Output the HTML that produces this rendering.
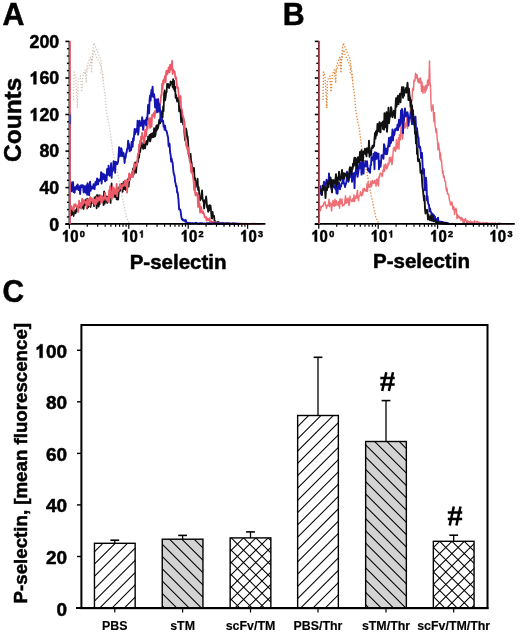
<!DOCTYPE html><html><head><meta charset="utf-8"><style>html,body{margin:0;padding:0;background:#fff;}svg{display:block;}</style></head><body>
<svg style="will-change:transform" width="520" height="633" viewBox="0 0 520 633" font-family='"Liberation Sans", sans-serif'>
<style>text{stroke:#000;stroke-width:0.5;paint-order:stroke}</style>
<rect width="520" height="633" fill="#fff"/>
<text transform="translate(2.6,25.3) scale(0.955,1)" font-size="31.8" font-weight="bold">A</text>
<text transform="translate(282.8,25.1) scale(0.955,1)" font-size="31.8" font-weight="bold">B</text>
<text transform="translate(2.4,301.8) scale(0.94,1)" font-size="31.8" font-weight="bold">C</text>
<text transform="translate(20.7,119.8) rotate(-90)" text-anchor="middle" font-size="24.5" font-weight="bold">Counts</text>
<text x="178.1" y="268.8" text-anchor="middle" font-size="20.5" font-weight="bold">P-selectin</text>
<text x="421.5" y="268.3" text-anchor="middle" font-size="20.5" font-weight="bold">P-selectin</text>
<polyline points="73.6,100.0 74.1,72.0 75.6,76.0 77.4,108.0 78.1,80.0 80.6,76.0 81.6,92.0 83.1,74.0 85.0,70.0 86.3,83.0 87.1,66.0 88.8,61.3 90.6,57.0 91.6,73.0 92.6,52.0 93.9,43.0 95.6,47.0 97.7,52.4 99.1,56.0 100.8,59.4 101.5,66.3 100.8,72.7 102.7,74.0 103.6,85.0 105.1,95.0 106.5,112.0 110.1,130.0 112.6,150.0 117.2,171.0 121.8,195.5 126.4,217.0 129.5,224.0" fill="none" stroke="#b8a090" stroke-width="1.3" stroke-linejoin="round" stroke-dasharray="1.3 1.7" opacity="0.6"/>
<polyline points="85.0,74.0 87.1,70.0 89.1,66.0 91.1,62.0 92.6,58.0 94.2,50.0 96.1,56.0 98.1,60.0 100.1,64.0 102.1,70.0 103.1,80.0" fill="none" stroke="#b8a090" stroke-width="1.3" stroke-linejoin="round" stroke-dasharray="1.3 1.7" opacity="0.6"/>
<polyline points="70.6,212.6 71.1,215.3 71.6,209.6 72.1,214.3 72.6,210.9 73.1,210.6 73.6,216.0 74.1,211.3 74.6,210.6 75.1,212.4 75.6,213.2 76.1,209.9 76.6,211.4 77.1,207.0 77.6,208.4 78.1,208.0 78.6,205.3 79.1,204.6 79.6,204.0 80.1,207.6 80.6,207.6 81.1,207.0 81.6,207.8 82.1,203.7 82.6,207.0 83.1,207.7 83.6,208.9 84.1,204.1 84.6,205.2 85.1,200.3 85.6,204.5 86.1,199.3 86.6,201.4 87.1,208.5 87.6,198.6 88.1,207.2 88.6,205.6 89.1,203.5 89.6,205.5 90.1,205.5 90.6,207.0 91.1,203.1 91.6,201.9 92.1,201.7 92.6,200.5 93.1,203.2 93.6,200.8 94.1,206.3 94.6,197.3 95.1,199.5 95.6,199.9 96.1,196.3 96.6,208.3 97.1,195.0 97.6,201.2 98.1,200.2 98.6,206.7 99.1,195.2 99.6,204.5 100.1,198.6 100.6,200.2 101.1,198.3 101.6,202.2 102.1,196.4 102.6,199.5 103.1,200.7 103.6,205.2 104.1,191.4 104.6,203.7 105.1,201.7 105.6,196.8 106.1,199.1 106.6,196.4 107.1,203.0 107.6,198.1 108.1,196.5 108.6,196.2 109.1,196.1 109.6,195.9 110.1,193.4 110.6,202.9 111.1,189.4 111.6,183.5 112.1,194.9 112.6,194.6 113.1,196.1 113.6,194.0 114.1,193.9 114.6,195.3 115.1,197.2 115.6,192.0 116.1,191.8 116.6,199.4 117.1,194.1 117.6,188.4 118.1,199.6 118.6,193.8 119.1,188.6 119.6,186.1 120.1,190.9 120.6,186.5 121.1,185.2 121.6,184.0 122.1,186.4 122.6,191.8 123.1,185.9 123.6,181.8 124.1,189.0 124.6,186.4 125.1,188.8 125.6,189.7 126.1,184.4 126.6,184.0 127.1,184.0 127.6,179.4 128.1,185.0 128.6,186.7 129.1,181.6 129.6,179.2 130.1,178.3 130.6,175.6 131.1,174.6 131.6,175.2 132.1,172.8 132.6,173.4 133.1,168.4 133.6,174.5 134.1,172.5 134.6,167.3 135.1,162.3 135.6,169.7 136.1,172.8 136.6,165.4 137.1,163.5 137.6,160.4 138.1,162.0 138.6,153.5 139.1,157.6 139.6,150.1 140.1,152.2 140.6,148.6 141.1,147.3 141.6,142.4 142.1,144.8 142.6,146.0 143.1,148.9 143.6,147.0 144.1,143.2 144.6,146.8 145.1,148.4 145.6,143.5 146.1,141.7 146.6,141.0 147.1,144.6 147.6,142.8 148.1,136.7 148.6,140.6 149.1,136.7 149.6,134.9 150.1,141.4 150.6,139.6 151.1,133.7 151.6,136.3 152.1,137.5 152.6,133.1 153.1,134.7 153.6,137.2 154.1,128.1 154.6,135.4 155.1,136.4 155.6,134.2 156.1,126.2 156.6,130.8 157.1,125.2 157.6,129.0 158.1,127.7 158.6,125.0 159.1,120.2 159.6,119.5 160.1,123.4 160.6,115.8 161.1,119.2 161.6,116.5 162.1,110.8 162.6,117.7 163.1,106.5 163.6,111.2 164.1,93.4 164.6,90.3 165.1,100.4 165.6,97.6 166.1,92.7 166.6,92.1 167.1,83.9 167.6,87.0 168.1,84.0 168.6,85.4 169.1,88.1 169.6,84.8 170.1,85.6 170.6,81.4 171.1,82.1 171.6,83.7 172.1,82.0 172.6,87.2 173.1,79.2 173.6,88.8 174.1,80.9 174.6,90.8 175.1,86.6 175.6,97.8 176.1,94.8 176.6,98.2 177.1,101.6 177.6,98.6 178.1,99.2 178.6,97.6 179.1,111.3 179.6,106.5 180.1,108.8 180.6,112.9 181.1,122.2 181.6,110.7 182.1,119.6 182.6,119.1 183.1,124.6 183.6,119.4 184.1,127.7 184.6,135.4 185.1,140.3 185.6,138.7 186.1,128.3 186.6,131.2 187.1,135.7 187.6,136.3 188.1,141.2 188.6,154.2 189.1,156.6 189.6,155.8 190.1,161.3 190.6,153.9 191.1,160.7 191.6,162.8 192.1,166.6 192.6,171.5 193.1,169.0 193.6,168.0 194.1,168.2 194.6,180.2 195.1,178.1 195.6,187.5 196.1,185.3 196.6,181.1 197.1,184.5 197.6,178.7 198.1,190.0 198.6,186.9 199.1,192.1 199.6,198.9 200.1,200.3 200.6,199.4 201.1,198.2 201.6,193.3 202.1,190.4 202.6,198.7 203.1,201.1 203.6,200.5 204.1,208.5 204.6,204.8 205.1,199.8 205.6,202.6 206.1,196.4 206.6,201.0 207.1,207.7 207.6,205.4 208.1,211.8 208.6,206.6 209.1,210.7 209.6,205.2 210.1,207.1 210.6,205.6 211.1,211.7 211.6,217.8 212.1,218.6 212.6,211.8 213.1,216.5 213.6,215.8 214.1,215.8 214.6,222.4 215.1,221.0 215.6,222.1 216.1,223.2 216.6,223.5 217.1,223.5 217.6,222.1 218.1,221.9 218.6,223.3 219.1,222.6 219.6,223.3 220.1,223.1 220.6,223.8 221.1,223.8 221.6,223.7 222.1,223.6 222.6,223.6 223.1,223.5 223.6,223.7 224.1,223.7 224.6,223.7 225.1,223.5 225.6,223.9 226.1,223.7 226.6,223.9 227.1,223.9 227.6,223.5 228.1,223.3 228.6,223.9 229.1,223.6 229.6,223.8 230.1,223.7 230.6,223.8 231.1,223.6 231.6,223.8 232.1,223.7 232.6,223.8 233.1,223.4 233.6,223.9 234.1,223.9 234.6,223.6 235.1,223.8 235.6,223.9 236.1,223.9 236.6,223.9 237.1,223.9 237.6,223.9 238.1,223.8 238.6,223.9 239.1,223.9 239.6,223.9" fill="none" stroke="#111" stroke-width="1.8" stroke-linejoin="round" />
<polyline points="70.6,207.9 71.1,209.0 71.6,206.2 72.1,208.4 72.6,209.8 73.1,208.2 73.6,211.3 74.1,204.3 74.6,206.8 75.1,204.5 75.6,204.1 76.1,205.7 76.6,206.7 77.1,207.1 77.6,207.2 78.1,212.1 78.6,208.0 79.1,200.7 79.6,205.8 80.1,203.2 80.6,203.4 81.1,208.6 81.6,203.9 82.1,198.6 82.6,205.1 83.1,203.1 83.6,200.2 84.1,200.7 84.6,201.4 85.1,203.0 85.6,201.6 86.1,202.9 86.6,208.0 87.1,199.8 87.6,199.5 88.1,201.0 88.6,205.0 89.1,199.2 89.6,205.6 90.1,196.9 90.6,197.7 91.1,200.7 91.6,198.1 92.1,198.8 92.6,202.0 93.1,202.8 93.6,200.8 94.1,199.5 94.6,204.5 95.1,201.5 95.6,199.4 96.1,203.9 96.6,197.2 97.1,200.4 97.6,201.8 98.1,199.5 98.6,197.5 99.1,200.3 99.6,197.3 100.1,197.0 100.6,195.4 101.1,202.8 101.6,196.6 102.1,202.0 102.6,199.3 103.1,197.1 103.6,199.9 104.1,198.5 104.6,197.9 105.1,192.7 105.6,197.3 106.1,199.8 106.6,198.2 107.1,199.6 107.6,201.0 108.1,197.2 108.6,202.1 109.1,190.2 109.6,194.2 110.1,186.1 110.6,197.2 111.1,194.5 111.6,199.6 112.1,192.3 112.6,186.3 113.1,197.5 113.6,188.1 114.1,188.1 114.6,191.6 115.1,194.1 115.6,189.7 116.1,191.7 116.6,183.9 117.1,196.3 117.6,189.4 118.1,189.6 118.6,190.9 119.1,188.9 119.6,188.6 120.1,184.1 120.6,186.5 121.1,187.9 121.6,189.6 122.1,184.9 122.6,185.2 123.1,185.5 123.6,185.9 124.1,184.0 124.6,181.9 125.1,180.4 125.6,185.8 126.1,182.3 126.6,180.8 127.1,192.7 127.6,182.7 128.1,181.7 128.6,178.3 129.1,173.3 129.6,180.2 130.1,174.9 130.6,174.6 131.1,177.2 131.6,176.3 132.1,172.6 132.6,170.8 133.1,177.2 133.6,170.6 134.1,163.7 134.6,169.1 135.1,165.8 135.6,164.3 136.1,165.5 136.6,162.8 137.1,166.1 137.6,156.6 138.1,153.6 138.6,153.8 139.1,144.5 139.6,147.1 140.1,140.7 140.6,144.5 141.1,136.6 141.6,140.6 142.1,132.7 142.6,136.3 143.1,137.3 143.6,138.5 144.1,143.2 144.6,142.1 145.1,129.9 145.6,130.5 146.1,136.2 146.6,131.8 147.1,123.8 147.6,128.9 148.1,121.6 148.6,121.1 149.1,118.2 149.6,120.3 150.1,127.9 150.6,120.4 151.1,117.9 151.6,126.5 152.1,115.0 152.6,115.3 153.1,114.1 153.6,115.8 154.1,112.3 154.6,117.9 155.1,110.8 155.6,113.1 156.1,111.0 156.6,106.4 157.1,105.1 157.6,107.7 158.1,98.8 158.6,106.3 159.1,105.7 159.6,105.2 160.1,103.0 160.6,101.1 161.1,95.2 161.6,95.3 162.1,83.7 162.6,89.3 163.1,80.4 163.6,84.0 164.1,79.4 164.6,78.3 165.1,75.8 165.6,82.3 166.1,72.3 166.6,70.7 167.1,74.6 167.6,73.6 168.1,71.9 168.6,67.4 169.1,67.7 169.6,72.4 170.1,64.6 170.6,69.6 171.1,69.2 171.6,66.2 172.1,61.0 172.6,74.0 173.1,69.5 173.6,71.6 174.1,71.4 174.6,71.1 175.1,75.4 175.6,79.0 176.1,77.1 176.6,82.4 177.1,88.0 177.6,87.3 178.1,87.3 178.6,94.2 179.1,96.7 179.6,99.6 180.1,96.6 180.6,95.9 181.1,108.3 181.6,108.7 182.1,110.2 182.6,116.3 183.1,116.0 183.6,118.5 184.1,130.3 184.6,121.7 185.1,134.3 185.6,138.9 186.1,145.6 186.6,144.1 187.1,149.0 187.6,147.2 188.1,153.1 188.6,147.9 189.1,155.9 189.6,160.3 190.1,162.5 190.6,163.6 191.1,172.0 191.6,164.7 192.1,173.4 192.6,174.0 193.1,178.1 193.6,180.7 194.1,190.0 194.6,181.7 195.1,192.8 195.6,195.5 196.1,192.6 196.6,193.5 197.1,193.1 197.6,196.1 198.1,206.9 198.6,195.6 199.1,205.2 199.6,203.5 200.1,212.5 200.6,209.7 201.1,206.9 201.6,210.1 202.1,212.7 202.6,213.2 203.1,211.4 203.6,213.8 204.1,214.1 204.6,217.0 205.1,217.3 205.6,217.9 206.1,217.0 206.6,220.5 207.1,218.6 207.6,218.6 208.1,219.6 208.6,220.0 209.1,220.2 209.6,218.1 210.1,222.9 210.6,222.0 211.1,223.0 211.6,221.2 212.1,222.6 212.6,222.2 213.1,222.2 213.6,223.8 214.1,222.1 214.6,223.1 215.1,222.0 215.6,223.4 216.1,223.2 216.6,223.2 217.1,223.3 217.6,222.9 218.1,223.2 218.6,223.6 219.1,222.8 219.6,223.8 220.1,223.8 220.6,223.3 221.1,223.1 221.6,223.2 222.1,223.2 222.6,223.4 223.1,223.9 223.6,223.3 224.1,223.8 224.6,223.9 225.1,223.3 225.6,223.5 226.1,223.8 226.6,223.4 227.1,223.9 227.6,223.9 228.1,223.6 228.6,223.4 229.1,223.8 229.6,223.7 230.1,223.5 230.6,223.6 231.1,223.7 231.6,223.8 232.1,223.9 232.6,223.6 233.1,223.4 233.6,223.3 234.1,223.9 234.6,223.6 235.1,223.6 235.6,223.9 236.1,223.9 236.6,223.9 237.1,223.7 237.6,223.6 238.1,223.6 238.6,223.9 239.1,223.8 239.6,223.8 240.1,223.9 240.6,223.9 241.1,223.5 241.6,223.8 242.1,223.9 242.6,223.6 243.1,223.9 243.6,223.9 244.1,223.9 244.6,223.7 245.1,223.6 245.6,223.9 246.1,223.8 246.6,223.7 247.1,223.8 247.6,223.9 248.1,223.9 248.6,223.8 249.1,223.9 249.6,223.9 250.1,223.9 250.6,223.8 251.1,223.9 251.6,223.8 252.1,223.7 252.6,223.7 253.1,223.6 253.6,223.9 254.1,223.7 254.6,223.7 255.1,223.8 255.6,223.9 256.1,223.8 256.6,223.9 257.1,223.9 257.6,223.9 258.1,223.8 258.6,223.9 259.1,223.9 259.6,223.9 260.1,223.9 260.6,223.8 261.1,223.9 261.6,223.9" fill="none" stroke="#ec5a68" stroke-width="1.8" stroke-linejoin="round" />
<polyline points="70.6,185.9 71.1,185.9 71.6,191.2 72.1,182.3 72.6,188.6 73.1,182.2 73.6,192.1 74.1,189.4 74.6,192.7 75.1,187.1 75.6,189.7 76.1,187.5 76.6,186.1 77.1,188.7 77.6,184.4 78.1,187.0 78.6,190.0 79.1,187.9 79.6,186.3 80.1,194.0 80.6,187.4 81.1,185.3 81.6,187.4 82.1,185.2 82.6,185.4 83.1,185.4 83.6,192.4 84.1,186.2 84.6,186.6 85.1,188.4 85.6,192.7 86.1,186.2 86.6,185.2 87.1,194.8 87.6,183.2 88.1,186.7 88.6,190.1 89.1,195.1 89.6,185.7 90.1,181.6 90.6,190.9 91.1,186.8 91.6,186.6 92.1,188.6 92.6,187.3 93.1,187.0 93.6,184.2 94.1,188.9 94.6,189.1 95.1,183.9 95.6,181.8 96.1,185.0 96.6,183.6 97.1,178.4 97.6,180.0 98.1,184.5 98.6,180.5 99.1,179.5 99.6,180.9 100.1,179.8 100.6,179.2 101.1,172.1 101.6,183.5 102.1,177.7 102.6,173.5 103.1,179.0 103.6,176.0 104.1,174.3 104.6,177.4 105.1,181.3 105.6,175.2 106.1,178.5 106.6,180.2 107.1,169.0 107.6,170.5 108.1,174.7 108.6,165.8 109.1,170.5 109.6,175.7 110.1,174.5 110.6,172.4 111.1,163.3 111.6,177.7 112.1,170.8 112.6,171.1 113.1,169.7 113.6,161.3 114.1,161.8 114.6,162.0 115.1,172.7 115.6,162.0 116.1,163.2 116.6,162.3 117.1,164.4 117.6,163.3 118.1,161.5 118.6,155.2 119.1,147.2 119.6,156.6 120.1,154.5 120.6,155.4 121.1,148.1 121.6,148.9 122.1,156.4 122.6,152.3 123.1,153.5 123.6,153.1 124.1,157.1 124.6,163.0 125.1,157.5 125.6,157.8 126.1,153.5 126.6,152.5 127.1,148.8 127.6,148.8 128.1,140.7 128.6,144.7 129.1,144.0 129.6,151.3 130.1,150.1 130.6,150.2 131.1,150.1 131.6,141.9 132.1,145.2 132.6,146.9 133.1,138.2 133.6,140.7 134.1,135.2 134.6,129.0 135.1,134.2 135.6,129.7 136.1,132.0 136.6,128.8 137.1,130.5 137.6,120.6 138.1,134.7 138.6,131.0 139.1,123.7 139.6,120.6 140.1,123.1 140.6,125.8 141.1,125.3 141.6,125.5 142.1,117.3 142.6,120.7 143.1,129.9 143.6,126.5 144.1,120.6 144.6,123.5 145.1,121.3 145.6,120.1 146.1,125.4 146.6,117.7 147.1,119.9 147.6,113.8 148.1,105.0 148.6,105.3 149.1,113.3 149.6,99.4 150.1,95.5 150.6,100.6 151.1,93.2 151.6,89.6 152.1,96.2 152.6,86.6 153.1,96.8 153.6,93.7 154.1,94.4 154.6,98.5 155.1,107.5 155.6,104.2 156.1,99.5 156.6,103.6 157.1,112.3 157.6,108.8 158.1,99.3 158.6,111.5 159.1,104.3 159.6,104.2 160.1,110.9 160.6,116.8 161.1,121.2 161.6,121.6 162.1,119.1 162.6,121.6 163.1,120.8 163.6,126.6 164.1,125.4 164.6,129.6 165.1,125.8 165.6,130.3 166.1,130.6 166.6,131.2 167.1,133.1 167.6,135.9 168.1,137.5 168.6,146.2 169.1,146.7 169.6,143.7 170.1,152.7 170.6,154.3 171.1,161.5 171.6,158.4 172.1,161.3 172.6,162.5 173.1,168.5 173.6,172.8 174.1,174.6 174.6,176.1 175.1,181.8 175.6,183.2 176.1,186.6 176.6,186.0 177.1,192.5 177.6,192.1 178.1,195.7 178.6,201.5 179.1,209.4 179.6,209.5 180.1,209.4 180.6,211.0 181.1,215.3 181.6,218.0 182.1,219.4 182.6,218.9 183.1,220.5 183.6,220.1 184.1,220.5 184.6,220.2 185.1,221.4 185.6,219.9 186.1,221.4 186.6,223.0 187.1,222.6 187.6,223.5 188.1,222.8 188.6,223.2 189.1,223.5 189.6,222.9 190.1,223.0 190.6,223.9 191.1,223.1 191.6,223.1 192.1,223.1 192.6,223.4 193.1,223.3 193.6,223.7 194.1,223.7 194.6,223.2 195.1,223.2 195.6,222.9 196.1,222.8 196.6,223.1 197.1,223.7 197.6,223.4 198.1,223.7 198.6,223.7 199.1,223.3 199.6,223.9 200.1,223.2 200.6,223.2 201.1,223.3 201.6,223.8 202.1,223.4 202.6,223.2 203.1,223.6 203.6,223.8 204.1,223.4 204.6,223.4 205.1,223.8 205.6,223.8 206.1,223.8 206.6,223.2 207.1,223.6 207.6,223.6 208.1,222.9 208.6,223.9 209.1,223.5 209.6,223.4 210.1,223.9 210.6,223.6 211.1,223.3 211.6,223.5 212.1,223.7 212.6,223.8 213.1,223.5 213.6,223.3 214.1,223.3 214.6,223.3 215.1,223.2 215.6,223.6 216.1,223.4 216.6,223.6 217.1,223.3 217.6,223.3 218.1,223.5 218.6,223.5 219.1,223.9 219.6,223.3 220.1,223.7 220.6,223.6 221.1,223.3 221.6,223.8 222.1,223.7 222.6,223.1 223.1,223.8 223.6,223.9 224.1,223.4 224.6,223.9 225.1,223.7 225.6,223.4 226.1,223.8 226.6,223.6 227.1,223.3 227.6,223.2 228.1,223.7 228.6,223.5 229.1,223.8 229.6,223.8 230.1,223.6 230.6,223.6 231.1,223.9 231.6,223.9 232.1,223.9 232.6,223.6 233.1,223.5 233.6,223.6 234.1,223.9 234.6,223.8 235.1,223.7 235.6,223.5 236.1,223.8 236.6,223.6 237.1,223.8 237.6,223.9 238.1,223.9 238.6,223.8 239.1,223.7 239.6,223.8" fill="none" stroke="#1414b0" stroke-width="1.9" stroke-linejoin="round" />
<line x1="70" y1="224" x2="70" y2="117" stroke="#3a2aa0" stroke-width="1.5"/>
<line x1="65.4" y1="224.2" x2="69.4" y2="224.2" stroke="#000" stroke-width="1.6"/>
<g transform="translate(59.20,230.50) scale(1.000,1)"><text x="-9.90" y="0" font-size="17.8" font-weight="bold">0</text></g>
<line x1="66.9" y1="216.9" x2="69.4" y2="216.9" stroke="#000" stroke-width="1.4"/>
<line x1="66.9" y1="209.6" x2="69.4" y2="209.6" stroke="#000" stroke-width="1.4"/>
<line x1="66.9" y1="202.3" x2="69.4" y2="202.3" stroke="#000" stroke-width="1.4"/>
<line x1="66.9" y1="195.0" x2="69.4" y2="195.0" stroke="#000" stroke-width="1.4"/>
<line x1="65.4" y1="187.6" x2="69.4" y2="187.6" stroke="#000" stroke-width="1.6"/>
<g transform="translate(59.20,193.94) scale(1.000,1)"><text x="-19.79" y="0" font-size="17.8" font-weight="bold">4</text><text x="-9.90" y="0" font-size="17.8" font-weight="bold">0</text></g>
<line x1="66.9" y1="180.3" x2="69.4" y2="180.3" stroke="#000" stroke-width="1.4"/>
<line x1="66.9" y1="173.0" x2="69.4" y2="173.0" stroke="#000" stroke-width="1.4"/>
<line x1="66.9" y1="165.7" x2="69.4" y2="165.7" stroke="#000" stroke-width="1.4"/>
<line x1="66.9" y1="158.4" x2="69.4" y2="158.4" stroke="#000" stroke-width="1.4"/>
<line x1="65.4" y1="151.1" x2="69.4" y2="151.1" stroke="#000" stroke-width="1.6"/>
<g transform="translate(59.20,157.38) scale(1.000,1)"><text x="-19.79" y="0" font-size="17.8" font-weight="bold">8</text><text x="-9.90" y="0" font-size="17.8" font-weight="bold">0</text></g>
<line x1="66.9" y1="143.8" x2="69.4" y2="143.8" stroke="#000" stroke-width="1.4"/>
<line x1="66.9" y1="136.5" x2="69.4" y2="136.5" stroke="#000" stroke-width="1.4"/>
<line x1="66.9" y1="129.1" x2="69.4" y2="129.1" stroke="#000" stroke-width="1.4"/>
<line x1="66.9" y1="121.8" x2="69.4" y2="121.8" stroke="#000" stroke-width="1.4"/>
<line x1="65.4" y1="114.5" x2="69.4" y2="114.5" stroke="#000" stroke-width="1.6"/>
<g transform="translate(59.20,120.82) scale(1.000,1)"><polygon points="-22.91,0.00 -22.91,-12.74 -24.92,-12.74 -25.49,-11.89 -26.31,-11.04 -27.29,-10.29 -28.36,-9.70 -28.36,-7.44 -27.02,-8.01 -25.61,-9.08 -25.61,0.00" fill="#000" stroke="#000" stroke-width="0.5" stroke-linejoin="round"/><text x="-19.79" y="0" font-size="17.8" font-weight="bold">2</text><text x="-9.90" y="0" font-size="17.8" font-weight="bold">0</text></g>
<line x1="66.9" y1="107.2" x2="69.4" y2="107.2" stroke="#000" stroke-width="1.4"/>
<line x1="66.9" y1="99.9" x2="69.4" y2="99.9" stroke="#000" stroke-width="1.4"/>
<line x1="66.9" y1="92.6" x2="69.4" y2="92.6" stroke="#000" stroke-width="1.4"/>
<line x1="66.9" y1="85.3" x2="69.4" y2="85.3" stroke="#000" stroke-width="1.4"/>
<line x1="65.4" y1="78.0" x2="69.4" y2="78.0" stroke="#000" stroke-width="1.6"/>
<g transform="translate(59.20,84.26) scale(1.000,1)"><polygon points="-22.91,0.00 -22.91,-12.74 -24.92,-12.74 -25.49,-11.89 -26.31,-11.04 -27.29,-10.29 -28.36,-9.70 -28.36,-7.44 -27.02,-8.01 -25.61,-9.08 -25.61,0.00" fill="#000" stroke="#000" stroke-width="0.5" stroke-linejoin="round"/><text x="-19.79" y="0" font-size="17.8" font-weight="bold">6</text><text x="-9.90" y="0" font-size="17.8" font-weight="bold">0</text></g>
<line x1="66.9" y1="70.6" x2="69.4" y2="70.6" stroke="#000" stroke-width="1.4"/>
<line x1="66.9" y1="63.3" x2="69.4" y2="63.3" stroke="#000" stroke-width="1.4"/>
<line x1="66.9" y1="56.0" x2="69.4" y2="56.0" stroke="#000" stroke-width="1.4"/>
<line x1="66.9" y1="48.7" x2="69.4" y2="48.7" stroke="#000" stroke-width="1.4"/>
<line x1="65.4" y1="41.4" x2="69.4" y2="41.4" stroke="#000" stroke-width="1.6"/>
<g transform="translate(59.20,47.70) scale(1.000,1)"><text x="-29.69" y="0" font-size="17.8" font-weight="bold">2</text><text x="-19.79" y="0" font-size="17.8" font-weight="bold">0</text><text x="-9.90" y="0" font-size="17.8" font-weight="bold">0</text></g>
<line x1="69.4" y1="224.2" x2="69.4" y2="228.7" stroke="#000" stroke-width="1.2"/>
<line x1="87.3" y1="224.2" x2="87.3" y2="226.7" stroke="#000" stroke-width="1.2"/>
<line x1="97.7" y1="224.2" x2="97.7" y2="226.7" stroke="#000" stroke-width="1.2"/>
<line x1="105.2" y1="224.2" x2="105.2" y2="226.7" stroke="#000" stroke-width="1.2"/>
<line x1="110.9" y1="224.2" x2="110.9" y2="226.7" stroke="#000" stroke-width="1.2"/>
<line x1="115.6" y1="224.2" x2="115.6" y2="226.7" stroke="#000" stroke-width="1.2"/>
<line x1="119.6" y1="224.2" x2="119.6" y2="226.7" stroke="#000" stroke-width="1.2"/>
<line x1="123.0" y1="224.2" x2="123.0" y2="226.7" stroke="#000" stroke-width="1.2"/>
<line x1="126.1" y1="224.2" x2="126.1" y2="226.7" stroke="#000" stroke-width="1.2"/>
<g transform="translate(70.20,241.60) scale(0.920,1)"><polygon points="-2.84,0.00 -2.84,-11.60 -4.67,-11.60 -5.18,-10.82 -5.93,-10.04 -6.82,-9.36 -7.79,-8.83 -7.79,-6.77 -6.58,-7.29 -5.30,-8.26 -5.30,0.00" fill="#000" stroke="#000" stroke-width="0.5" stroke-linejoin="round"/><text x="0.00" y="0" font-size="16.2" font-weight="bold">0</text></g>
<g transform="translate(79.80,237.40) scale(0.950,1)"><text x="0.00" y="0" font-size="9.6" font-weight="bold">0</text></g>
<line x1="128.8" y1="224.2" x2="128.8" y2="228.7" stroke="#000" stroke-width="1.2"/>
<line x1="146.7" y1="224.2" x2="146.7" y2="226.7" stroke="#000" stroke-width="1.2"/>
<line x1="157.1" y1="224.2" x2="157.1" y2="226.7" stroke="#000" stroke-width="1.2"/>
<line x1="164.6" y1="224.2" x2="164.6" y2="226.7" stroke="#000" stroke-width="1.2"/>
<line x1="170.3" y1="224.2" x2="170.3" y2="226.7" stroke="#000" stroke-width="1.2"/>
<line x1="175.0" y1="224.2" x2="175.0" y2="226.7" stroke="#000" stroke-width="1.2"/>
<line x1="179.0" y1="224.2" x2="179.0" y2="226.7" stroke="#000" stroke-width="1.2"/>
<line x1="182.4" y1="224.2" x2="182.4" y2="226.7" stroke="#000" stroke-width="1.2"/>
<line x1="185.5" y1="224.2" x2="185.5" y2="226.7" stroke="#000" stroke-width="1.2"/>
<g transform="translate(129.60,241.60) scale(0.920,1)"><polygon points="-2.84,0.00 -2.84,-11.60 -4.67,-11.60 -5.18,-10.82 -5.93,-10.04 -6.82,-9.36 -7.79,-8.83 -7.79,-6.77 -6.58,-7.29 -5.30,-8.26 -5.30,0.00" fill="#000" stroke="#000" stroke-width="0.5" stroke-linejoin="round"/><text x="0.00" y="0" font-size="16.2" font-weight="bold">0</text></g>
<g transform="translate(139.20,237.40) scale(0.950,1)"><polygon points="3.66,0.00 3.66,-6.87 2.57,-6.87 2.27,-6.41 1.82,-5.95 1.30,-5.55 0.72,-5.23 0.72,-4.01 1.44,-4.32 2.20,-4.90 2.20,0.00" fill="#000" stroke="#000" stroke-width="0.5" stroke-linejoin="round"/></g>
<line x1="188.2" y1="224.2" x2="188.2" y2="228.7" stroke="#000" stroke-width="1.2"/>
<line x1="206.1" y1="224.2" x2="206.1" y2="226.7" stroke="#000" stroke-width="1.2"/>
<line x1="216.5" y1="224.2" x2="216.5" y2="226.7" stroke="#000" stroke-width="1.2"/>
<line x1="224.0" y1="224.2" x2="224.0" y2="226.7" stroke="#000" stroke-width="1.2"/>
<line x1="229.7" y1="224.2" x2="229.7" y2="226.7" stroke="#000" stroke-width="1.2"/>
<line x1="234.4" y1="224.2" x2="234.4" y2="226.7" stroke="#000" stroke-width="1.2"/>
<line x1="238.4" y1="224.2" x2="238.4" y2="226.7" stroke="#000" stroke-width="1.2"/>
<line x1="241.8" y1="224.2" x2="241.8" y2="226.7" stroke="#000" stroke-width="1.2"/>
<line x1="244.9" y1="224.2" x2="244.9" y2="226.7" stroke="#000" stroke-width="1.2"/>
<g transform="translate(189.00,241.60) scale(0.920,1)"><polygon points="-2.84,0.00 -2.84,-11.60 -4.67,-11.60 -5.18,-10.82 -5.93,-10.04 -6.82,-9.36 -7.79,-8.83 -7.79,-6.77 -6.58,-7.29 -5.30,-8.26 -5.30,0.00" fill="#000" stroke="#000" stroke-width="0.5" stroke-linejoin="round"/><text x="0.00" y="0" font-size="16.2" font-weight="bold">0</text></g>
<g transform="translate(198.60,237.40) scale(0.950,1)"><text x="0.00" y="0" font-size="9.6" font-weight="bold">2</text></g>
<line x1="247.6" y1="224.2" x2="247.6" y2="228.7" stroke="#000" stroke-width="1.2"/>
<g transform="translate(248.40,241.60) scale(0.920,1)"><polygon points="-2.84,0.00 -2.84,-11.60 -4.67,-11.60 -5.18,-10.82 -5.93,-10.04 -6.82,-9.36 -7.79,-8.83 -7.79,-6.77 -6.58,-7.29 -5.30,-8.26 -5.30,0.00" fill="#000" stroke="#000" stroke-width="0.5" stroke-linejoin="round"/><text x="0.00" y="0" font-size="16.2" font-weight="bold">0</text></g>
<g transform="translate(258.00,237.40) scale(0.950,1)"><text x="0.00" y="0" font-size="9.6" font-weight="bold">3</text></g>
<line x1="65.4" y1="223.8" x2="265.4" y2="223.8" stroke="#000" stroke-width="1.7"/>
<line x1="69.4" y1="41" x2="69.4" y2="224.2" stroke="#000" stroke-width="1.6"/>
<line x1="70.0" y1="41" x2="70.0" y2="224" stroke="#e85a68" stroke-width="1.7"/>
<line x1="70.2" y1="114.5" x2="70.2" y2="124" stroke="#5040a8" stroke-width="1.9"/>
<polyline points="323.0,100.0 323.5,72.0 325.0,76.0 326.8,108.0 327.5,80.0 330.0,76.0 331.0,92.0 332.5,74.0 334.4,70.0 335.7,83.0 336.5,66.0 338.2,61.3 340.0,57.0 341.0,73.0 342.0,52.0 343.3,43.0 345.0,47.0 347.1,52.4 348.5,56.0 350.2,59.4 350.9,66.3 350.2,72.7 352.1,74.0 353.0,85.0 354.5,95.0 355.9,112.0 359.5,130.0 362.0,150.0 366.6,171.0 371.2,195.5 375.8,217.0 378.9,224.0" fill="none" stroke="#e08a40" stroke-width="1.4" stroke-linejoin="round" stroke-dasharray="1.3 1.7" opacity="1.0"/>
<polyline points="334.4,74.0 336.5,70.0 338.5,66.0 340.5,62.0 342.0,58.0 343.6,50.0 345.5,56.0 347.5,60.0 349.5,64.0 351.5,70.0 352.5,80.0" fill="none" stroke="#e08a40" stroke-width="1.4" stroke-linejoin="round" stroke-dasharray="1.3 1.7" opacity="1.0"/>
<polyline points="320.0,205.6 320.5,210.8 321.0,207.3 321.5,207.4 322.0,206.3 322.5,205.6 323.0,206.2 323.5,204.5 324.0,202.7 324.5,202.3 325.0,201.6 325.5,205.0 326.0,205.8 326.5,208.4 327.0,205.5 327.5,204.9 328.0,205.8 328.5,204.1 329.0,199.3 329.5,206.6 330.0,202.7 330.5,204.4 331.0,203.1 331.5,211.0 332.0,206.5 332.5,204.6 333.0,200.6 333.5,205.7 334.0,201.0 334.5,206.2 335.0,199.3 335.5,202.9 336.0,205.5 336.5,200.8 337.0,203.3 337.5,203.4 338.0,205.3 338.5,201.6 339.0,204.6 339.5,208.1 340.0,198.8 340.5,200.4 341.0,203.8 341.5,200.8 342.0,198.9 342.5,206.1 343.0,204.9 343.5,205.2 344.0,205.1 344.5,204.1 345.0,200.0 345.5,195.8 346.0,203.3 346.5,199.1 347.0,201.9 347.5,202.6 348.0,198.0 348.5,200.2 349.0,205.6 349.5,202.8 350.0,196.1 350.5,199.7 351.0,200.0 351.5,201.3 352.0,201.6 352.5,199.1 353.0,198.4 353.5,201.3 354.0,194.7 354.5,201.6 355.0,199.1 355.5,196.5 356.0,196.1 356.5,198.1 357.0,193.1 357.5,190.4 358.0,197.8 358.5,200.7 359.0,195.9 359.5,195.9 360.0,195.1 360.5,191.8 361.0,195.2 361.5,195.9 362.0,193.0 362.5,195.1 363.0,188.8 363.5,192.1 364.0,188.4 364.5,188.7 365.0,190.4 365.5,189.7 366.0,191.4 366.5,190.3 367.0,184.1 367.5,191.4 368.0,182.0 368.5,186.2 369.0,187.0 369.5,185.3 370.0,186.7 370.5,184.9 371.0,181.3 371.5,186.8 372.0,183.7 372.5,180.6 373.0,183.4 373.5,182.8 374.0,183.7 374.5,180.4 375.0,182.6 375.5,180.9 376.0,186.2 376.5,179.2 377.0,184.1 377.5,179.0 378.0,182.5 378.5,186.0 379.0,176.3 379.5,177.5 380.0,173.4 380.5,173.3 381.0,173.0 381.5,174.4 382.0,176.5 382.5,175.6 383.0,170.0 383.5,171.4 384.0,164.9 384.5,171.4 385.0,167.6 385.5,164.0 386.0,164.7 386.5,168.8 387.0,166.5 387.5,167.9 388.0,163.3 388.5,164.9 389.0,162.8 389.5,157.5 390.0,161.9 390.5,160.6 391.0,157.1 391.5,161.0 392.0,164.6 392.5,160.5 393.0,154.0 393.5,148.1 394.0,150.2 394.5,147.1 395.0,148.6 395.5,151.4 396.0,145.8 396.5,139.8 397.0,149.0 397.5,143.2 398.0,147.0 398.5,137.8 399.0,149.1 399.5,134.5 400.0,138.5 400.5,139.9 401.0,126.5 401.5,132.0 402.0,128.0 402.5,139.0 403.0,134.3 403.5,127.1 404.0,123.2 404.5,122.2 405.0,128.1 405.5,123.4 406.0,126.5 406.5,122.1 407.0,116.7 407.5,128.4 408.0,122.4 408.5,116.9 409.0,117.1 409.5,122.0 410.0,119.0 410.5,107.1 411.0,112.7 411.5,100.8 412.0,100.9 412.5,90.0 413.0,87.9 413.5,90.4 414.0,80.1 414.5,81.9 415.0,80.2 415.5,73.3 416.0,78.1 416.5,76.3 417.0,74.4 417.5,79.6 418.0,81.9 418.5,82.5 419.0,78.5 419.5,82.9 420.0,82.4 420.5,78.0 421.0,81.7 421.5,91.4 422.0,82.1 422.5,87.8 423.0,93.2 423.5,86.6 424.0,89.0 424.5,87.3 425.0,92.9 425.5,85.6 426.0,90.8 426.5,85.2 427.0,88.5 427.5,80.0 428.0,81.4 428.5,85.4 429.0,79.1 429.5,60.9 430.0,82.4 430.5,85.3 431.0,103.0 431.5,111.0 432.0,108.1 432.5,108.9 433.0,104.8 433.5,115.0 434.0,121.7 434.5,112.8 435.0,125.4 435.5,127.9 436.0,132.5 436.5,129.0 437.0,136.4 437.5,141.5 438.0,149.9 438.5,143.3 439.0,147.8 439.5,150.0 440.0,159.0 440.5,153.0 441.0,161.1 441.5,160.1 442.0,166.7 442.5,173.0 443.0,170.7 443.5,177.3 444.0,175.7 444.5,179.4 445.0,181.4 445.5,181.4 446.0,187.9 446.5,190.9 447.0,188.2 447.5,194.1 448.0,193.9 448.5,193.9 449.0,197.0 449.5,200.3 450.0,201.6 450.5,205.0 451.0,203.3 451.5,204.7 452.0,202.0 452.5,205.9 453.0,209.6 453.5,206.4 454.0,207.6 454.5,214.4 455.0,211.0 455.5,209.6 456.0,208.3 456.5,211.6 457.0,218.7 457.5,214.8 458.0,216.8 458.5,217.6 459.0,216.2 459.5,218.0 460.0,217.9 460.5,217.6 461.0,220.3 461.5,217.5 462.0,218.1 462.5,218.6 463.0,222.0 463.5,219.7 464.0,223.5 464.5,219.4 465.0,220.4 465.5,218.6 466.0,220.6 466.5,221.8 467.0,222.5 467.5,220.7 468.0,221.3 468.5,223.3 469.0,221.4 469.5,222.0 470.0,222.6 470.5,221.0 471.0,223.2 471.5,221.9 472.0,222.8 472.5,221.9 473.0,222.4 473.5,223.3 474.0,222.4 474.5,220.8 475.0,222.1 475.5,222.0 476.0,222.2 476.5,222.6 477.0,221.2 477.5,223.8 478.0,221.9 478.5,223.5 479.0,222.4 479.5,222.4 480.0,222.6 480.5,222.5 481.0,223.1 481.5,223.5 482.0,223.9 482.5,223.9 483.0,222.2 483.5,223.3 484.0,223.2 484.5,223.0 485.0,223.2 485.5,223.1 486.0,222.6 486.5,222.8 487.0,223.6 487.5,223.2 488.0,223.8 488.5,223.1 489.0,223.1 489.5,223.4 490.0,223.4 490.5,223.7 491.0,223.2 491.5,223.7 492.0,223.5 492.5,223.1 493.0,223.4 493.5,223.4 494.0,223.8 494.5,223.9 495.0,223.7 495.5,223.3 496.0,223.7 496.5,223.6 497.0,223.4 497.5,223.8 498.0,223.4 498.5,223.5 499.0,223.3 499.5,223.2 500.0,223.7 500.5,223.2 501.0,223.5 501.5,223.6 502.0,223.8 502.5,223.5 503.0,223.9 503.5,223.5 504.0,223.6 504.5,223.6 505.0,223.7 505.5,223.6 506.0,223.5 506.5,223.7 507.0,223.7 507.5,223.9 508.0,223.7 508.5,223.9 509.0,223.7 509.5,223.9 510.0,223.9 510.5,223.8 511.0,223.9 511.5,223.9 512.0,223.9" fill="none" stroke="#ef6f77" stroke-width="1.45" stroke-linejoin="round" />
<polyline points="320.0,185.4 320.5,189.8 321.0,193.9 321.5,194.8 322.0,193.5 322.5,188.6 323.0,189.2 323.5,186.4 324.0,181.7 324.5,184.4 325.0,189.4 325.5,186.1 326.0,183.3 326.5,179.8 327.0,183.1 327.5,180.6 328.0,182.5 328.5,184.1 329.0,173.4 329.5,182.6 330.0,177.6 330.5,180.1 331.0,179.3 331.5,189.0 332.0,187.7 332.5,187.4 333.0,183.0 333.5,180.7 334.0,185.2 334.5,187.8 335.0,186.5 335.5,189.3 336.0,185.1 336.5,193.3 337.0,188.7 337.5,193.7 338.0,186.8 338.5,184.8 339.0,182.2 339.5,188.5 340.0,189.3 340.5,185.6 341.0,186.5 341.5,183.6 342.0,182.9 342.5,183.2 343.0,176.8 343.5,180.0 344.0,183.8 344.5,183.7 345.0,187.1 345.5,184.9 346.0,183.6 346.5,181.7 347.0,171.8 347.5,180.8 348.0,176.5 348.5,181.7 349.0,178.1 349.5,177.5 350.0,176.2 350.5,176.8 351.0,169.3 351.5,170.4 352.0,181.8 352.5,178.1 353.0,173.9 353.5,173.7 354.0,173.1 354.5,188.1 355.0,175.8 355.5,173.0 356.0,169.5 356.5,161.5 357.0,171.8 357.5,176.9 358.0,174.3 358.5,170.8 359.0,166.4 359.5,163.2 360.0,168.3 360.5,165.8 361.0,162.2 361.5,174.6 362.0,162.5 362.5,164.0 363.0,155.2 363.5,173.6 364.0,164.8 364.5,164.9 365.0,166.3 365.5,161.1 366.0,162.1 366.5,166.3 367.0,161.2 367.5,166.4 368.0,170.5 368.5,168.4 369.0,171.5 369.5,169.9 370.0,172.9 370.5,165.4 371.0,165.1 371.5,157.1 372.0,160.5 372.5,157.0 373.0,159.2 373.5,153.7 374.0,159.3 374.5,169.2 375.0,152.2 375.5,158.8 376.0,159.1 376.5,152.7 377.0,154.9 377.5,153.9 378.0,158.7 378.5,153.6 379.0,169.2 379.5,161.0 380.0,162.4 380.5,166.9 381.0,162.7 381.5,155.2 382.0,157.1 382.5,155.1 383.0,155.8 383.5,158.8 384.0,144.2 384.5,145.3 385.0,151.4 385.5,154.1 386.0,148.6 386.5,149.0 387.0,154.2 387.5,151.2 388.0,146.4 388.5,144.3 389.0,137.9 389.5,146.3 390.0,143.4 390.5,137.2 391.0,143.0 391.5,137.8 392.0,136.8 392.5,129.4 393.0,140.5 393.5,131.5 394.0,135.4 394.5,134.0 395.0,129.1 395.5,130.7 396.0,129.0 396.5,128.1 397.0,129.4 397.5,124.7 398.0,130.2 398.5,126.6 399.0,119.7 399.5,126.5 400.0,121.7 400.5,124.9 401.0,110.5 401.5,122.4 402.0,109.0 402.5,116.7 403.0,133.1 403.5,120.0 404.0,120.9 404.5,111.5 405.0,108.5 405.5,113.5 406.0,116.5 406.5,114.7 407.0,112.6 407.5,112.3 408.0,115.3 408.5,125.6 409.0,118.5 409.5,117.4 410.0,118.2 410.5,114.3 411.0,112.1 411.5,118.9 412.0,124.2 412.5,119.7 413.0,110.2 413.5,123.7 414.0,117.2 414.5,125.4 415.0,119.0 415.5,116.7 416.0,127.7 416.5,129.2 417.0,128.2 417.5,133.2 418.0,137.3 418.5,137.4 419.0,147.1 419.5,147.9 420.0,146.7 420.5,149.6 421.0,158.0 421.5,158.1 422.0,152.9 422.5,163.3 423.0,173.6 423.5,170.6 424.0,169.1 424.5,182.9 425.0,190.2 425.5,183.9 426.0,177.8 426.5,184.6 427.0,200.3 427.5,196.3 428.0,202.7 428.5,204.4 429.0,204.9 429.5,211.2 430.0,208.4 430.5,211.2 431.0,212.0 431.5,213.5 432.0,220.6 432.5,213.6 433.0,214.6 433.5,220.1 434.0,215.3 434.5,218.8 435.0,216.6 435.5,221.2 436.0,219.5 436.5,221.2 437.0,218.9 437.5,220.4 438.0,217.6 438.5,222.4 439.0,222.1 439.5,221.8 440.0,221.9 440.5,221.6 441.0,222.0 441.5,223.9 442.0,221.8 442.5,222.0 443.0,223.0 443.5,222.8 444.0,222.3 444.5,223.8 445.0,223.9 445.5,222.9 446.0,223.9 446.5,222.7 447.0,223.9 447.5,222.9 448.0,223.7 448.5,223.7 449.0,223.7 449.5,223.9 450.0,223.9 450.5,223.9 451.0,223.9 451.5,223.9 452.0,223.9 452.5,223.9 453.0,223.9 453.5,223.9 454.0,223.9 454.5,223.9 455.0,223.9 455.5,223.9 456.0,223.9 456.5,223.9 457.0,223.9 457.5,223.9 458.0,223.9 458.5,223.9 459.0,223.9 459.5,223.9 460.0,223.9 460.5,223.9 461.0,223.9 461.5,223.9 462.0,223.9 462.5,223.8 463.0,223.9 463.5,223.9 464.0,223.9 464.5,223.9 465.0,223.9 465.5,223.9 466.0,223.8 466.5,223.9 467.0,223.9 467.5,223.9 468.0,223.9 468.5,223.9 469.0,223.9 469.5,223.9 470.0,223.9 470.5,223.9 471.0,223.9 471.5,223.9 472.0,223.9 472.5,223.9 473.0,223.9 473.5,223.9 474.0,223.9 474.5,223.7 475.0,223.9 475.5,223.9 476.0,223.9 476.5,223.9 477.0,223.9 477.5,223.9 478.0,223.9 478.5,223.9 479.0,223.9 479.5,223.9 480.0,223.9 480.5,223.9 481.0,223.9 481.5,223.9 482.0,223.9 482.5,223.9 483.0,223.9 483.5,223.9 484.0,223.9 484.5,223.9 485.0,223.9 485.5,223.9 486.0,223.9 486.5,223.9 487.0,223.9 487.5,223.9 488.0,223.9 488.5,223.9 489.0,223.9 489.5,223.9 490.0,223.9 490.5,223.9 491.0,223.9 491.5,223.9 492.0,223.9 492.5,223.9 493.0,223.9 493.5,223.9 494.0,223.9 494.5,223.9 495.0,223.8 495.5,223.9 496.0,223.9 496.5,223.9 497.0,223.9 497.5,223.9 498.0,223.9 498.5,223.7 499.0,223.9 499.5,223.9 500.0,223.9" fill="none" stroke="#1414b0" stroke-width="1.9" stroke-linejoin="round" />
<polyline points="320.0,188.9 320.5,190.7 321.0,190.2 321.5,191.2 322.0,195.0 322.5,185.6 323.0,190.1 323.5,189.0 324.0,186.9 324.5,189.3 325.0,189.1 325.5,198.0 326.0,189.1 326.5,187.4 327.0,190.2 327.5,182.2 328.0,183.4 328.5,187.3 329.0,182.6 329.5,180.1 330.0,181.2 330.5,177.5 331.0,187.0 331.5,187.1 332.0,192.4 332.5,180.3 333.0,180.3 333.5,180.2 334.0,183.0 334.5,180.7 335.0,183.6 335.5,178.9 336.0,174.1 336.5,186.3 337.0,177.5 337.5,184.1 338.0,177.7 338.5,179.5 339.0,171.7 339.5,174.3 340.0,179.9 340.5,180.5 341.0,176.9 341.5,178.4 342.0,170.0 342.5,177.8 343.0,174.8 343.5,173.2 344.0,178.9 344.5,175.5 345.0,173.5 345.5,175.5 346.0,175.4 346.5,175.8 347.0,176.7 347.5,173.4 348.0,178.2 348.5,180.0 349.0,176.6 349.5,169.5 350.0,167.1 350.5,171.1 351.0,167.8 351.5,174.4 352.0,168.6 352.5,169.1 353.0,163.8 353.5,166.6 354.0,160.1 354.5,157.7 355.0,164.9 355.5,157.9 356.0,159.5 356.5,165.7 357.0,168.3 357.5,160.2 358.0,157.1 358.5,162.1 359.0,162.2 359.5,159.3 360.0,151.9 360.5,153.4 361.0,160.5 361.5,150.2 362.0,155.5 362.5,160.9 363.0,159.7 363.5,151.5 364.0,153.0 364.5,153.2 365.0,148.7 365.5,154.2 366.0,149.5 366.5,156.3 367.0,148.1 367.5,150.0 368.0,149.9 368.5,152.8 369.0,140.6 369.5,156.8 370.0,150.9 370.5,151.3 371.0,155.1 371.5,147.9 372.0,148.4 372.5,145.7 373.0,147.7 373.5,145.5 374.0,146.3 374.5,139.1 375.0,133.0 375.5,138.5 376.0,131.2 376.5,135.6 377.0,133.3 377.5,123.9 378.0,131.6 378.5,127.6 379.0,125.4 379.5,122.3 380.0,132.0 380.5,132.3 381.0,123.4 381.5,123.2 382.0,123.6 382.5,122.0 383.0,129.0 383.5,121.0 384.0,129.6 384.5,113.1 385.0,115.3 385.5,127.2 386.0,120.8 386.5,112.3 387.0,131.8 387.5,124.0 388.0,121.7 388.5,107.6 389.0,123.1 389.5,118.1 390.0,116.7 390.5,114.7 391.0,107.1 391.5,108.9 392.0,115.6 392.5,117.2 393.0,114.8 393.5,112.5 394.0,110.6 394.5,111.1 395.0,118.0 395.5,107.0 396.0,98.3 396.5,106.8 397.0,102.0 397.5,97.5 398.0,95.7 398.5,104.3 399.0,96.5 399.5,97.7 400.0,93.6 400.5,102.2 401.0,94.0 401.5,93.1 402.0,87.1 402.5,87.6 403.0,97.8 403.5,87.1 404.0,95.9 404.5,92.7 405.0,91.1 405.5,89.8 406.0,88.0 406.5,92.6 407.0,88.4 407.5,82.8 408.0,89.7 408.5,100.1 409.0,88.7 409.5,95.8 410.0,97.8 410.5,106.4 411.0,100.1 411.5,113.8 412.0,105.2 412.5,113.9 413.0,111.1 413.5,121.3 414.0,121.6 414.5,121.2 415.0,133.7 415.5,131.5 416.0,143.4 416.5,131.2 417.0,153.9 417.5,149.0 418.0,161.0 418.5,159.3 419.0,159.2 419.5,161.5 420.0,163.9 420.5,172.8 421.0,172.5 421.5,170.6 422.0,179.5 422.5,187.1 423.0,190.1 423.5,195.3 424.0,200.5 424.5,196.0 425.0,208.7 425.5,213.5 426.0,211.8 426.5,210.7 427.0,209.8 427.5,212.3 428.0,219.5 428.5,215.0 429.0,218.4 429.5,218.2 430.0,220.3 430.5,216.8 431.0,215.6 431.5,219.1 432.0,220.4 432.5,216.0 433.0,220.4 433.5,221.3 434.0,221.1 434.5,221.2 435.0,220.0 435.5,221.5 436.0,221.7 436.5,223.1 437.0,222.8 437.5,223.0 438.0,221.7 438.5,222.0 439.0,223.0 439.5,222.9 440.0,223.5 440.5,222.7 441.0,222.7 441.5,223.5 442.0,222.8 442.5,223.0 443.0,223.8 443.5,223.9 444.0,223.2 444.5,223.0 445.0,223.3 445.5,222.7 446.0,223.8 446.5,223.9 447.0,223.8 447.5,223.6 448.0,223.6 448.5,223.8 449.0,223.9 449.5,223.9 450.0,223.9 450.5,223.9 451.0,223.9 451.5,223.9 452.0,223.8 452.5,223.9 453.0,223.9 453.5,223.9 454.0,223.9 454.5,223.9 455.0,223.9 455.5,223.9 456.0,223.9 456.5,223.9 457.0,223.9 457.5,223.9 458.0,223.9 458.5,223.9 459.0,223.9 459.5,223.9 460.0,223.9 460.5,223.9 461.0,223.9 461.5,223.9 462.0,223.9 462.5,223.9 463.0,223.9 463.5,223.9 464.0,223.9 464.5,223.8 465.0,223.9 465.5,223.9 466.0,223.9 466.5,223.9 467.0,223.8 467.5,223.9 468.0,223.9 468.5,223.9 469.0,223.9 469.5,223.9 470.0,223.9 470.5,223.9 471.0,223.9 471.5,223.9 472.0,223.9 472.5,223.9 473.0,223.9 473.5,223.9 474.0,223.9 474.5,223.9 475.0,223.9 475.5,223.9 476.0,223.9 476.5,223.9 477.0,223.9 477.5,223.9 478.0,223.9 478.5,223.9 479.0,223.9 479.5,223.9 480.0,223.9 480.5,223.9 481.0,223.9 481.5,223.9 482.0,223.9 482.5,223.9 483.0,223.9 483.5,223.9 484.0,223.9 484.5,223.9 485.0,223.9 485.5,223.9 486.0,223.9 486.5,223.9 487.0,223.8 487.5,223.8 488.0,223.9 488.5,223.9 489.0,223.9 489.5,223.9 490.0,223.9 490.5,223.9 491.0,223.9 491.5,223.9 492.0,223.9 492.5,223.9 493.0,223.9 493.5,223.9 494.0,223.9 494.5,223.9 495.0,223.9 495.5,223.8 496.0,223.9 496.5,223.9 497.0,223.9 497.5,223.9 498.0,223.9 498.5,223.9 499.0,223.9 499.5,223.9 500.0,223.9" fill="none" stroke="#111" stroke-width="1.9" stroke-linejoin="round" />
<line x1="314.8" y1="224.2" x2="318.8" y2="224.2" stroke="#000" stroke-width="1.6"/>
<line x1="316.3" y1="216.9" x2="318.8" y2="216.9" stroke="#000" stroke-width="1.4"/>
<line x1="316.3" y1="209.6" x2="318.8" y2="209.6" stroke="#000" stroke-width="1.4"/>
<line x1="316.3" y1="202.3" x2="318.8" y2="202.3" stroke="#000" stroke-width="1.4"/>
<line x1="316.3" y1="195.0" x2="318.8" y2="195.0" stroke="#000" stroke-width="1.4"/>
<line x1="314.8" y1="187.6" x2="318.8" y2="187.6" stroke="#000" stroke-width="1.6"/>
<line x1="316.3" y1="180.3" x2="318.8" y2="180.3" stroke="#000" stroke-width="1.4"/>
<line x1="316.3" y1="173.0" x2="318.8" y2="173.0" stroke="#000" stroke-width="1.4"/>
<line x1="316.3" y1="165.7" x2="318.8" y2="165.7" stroke="#000" stroke-width="1.4"/>
<line x1="316.3" y1="158.4" x2="318.8" y2="158.4" stroke="#000" stroke-width="1.4"/>
<line x1="314.8" y1="151.1" x2="318.8" y2="151.1" stroke="#000" stroke-width="1.6"/>
<line x1="316.3" y1="143.8" x2="318.8" y2="143.8" stroke="#000" stroke-width="1.4"/>
<line x1="316.3" y1="136.5" x2="318.8" y2="136.5" stroke="#000" stroke-width="1.4"/>
<line x1="316.3" y1="129.1" x2="318.8" y2="129.1" stroke="#000" stroke-width="1.4"/>
<line x1="316.3" y1="121.8" x2="318.8" y2="121.8" stroke="#000" stroke-width="1.4"/>
<line x1="314.8" y1="114.5" x2="318.8" y2="114.5" stroke="#000" stroke-width="1.6"/>
<line x1="316.3" y1="107.2" x2="318.8" y2="107.2" stroke="#000" stroke-width="1.4"/>
<line x1="316.3" y1="99.9" x2="318.8" y2="99.9" stroke="#000" stroke-width="1.4"/>
<line x1="316.3" y1="92.6" x2="318.8" y2="92.6" stroke="#000" stroke-width="1.4"/>
<line x1="316.3" y1="85.3" x2="318.8" y2="85.3" stroke="#000" stroke-width="1.4"/>
<line x1="314.8" y1="78.0" x2="318.8" y2="78.0" stroke="#000" stroke-width="1.6"/>
<line x1="316.3" y1="70.6" x2="318.8" y2="70.6" stroke="#000" stroke-width="1.4"/>
<line x1="316.3" y1="63.3" x2="318.8" y2="63.3" stroke="#000" stroke-width="1.4"/>
<line x1="316.3" y1="56.0" x2="318.8" y2="56.0" stroke="#000" stroke-width="1.4"/>
<line x1="316.3" y1="48.7" x2="318.8" y2="48.7" stroke="#000" stroke-width="1.4"/>
<line x1="314.8" y1="41.4" x2="318.8" y2="41.4" stroke="#000" stroke-width="1.6"/>
<line x1="318.8" y1="224.2" x2="318.8" y2="228.7" stroke="#000" stroke-width="1.2"/>
<line x1="336.7" y1="224.2" x2="336.7" y2="226.7" stroke="#000" stroke-width="1.2"/>
<line x1="347.1" y1="224.2" x2="347.1" y2="226.7" stroke="#000" stroke-width="1.2"/>
<line x1="354.6" y1="224.2" x2="354.6" y2="226.7" stroke="#000" stroke-width="1.2"/>
<line x1="360.3" y1="224.2" x2="360.3" y2="226.7" stroke="#000" stroke-width="1.2"/>
<line x1="365.0" y1="224.2" x2="365.0" y2="226.7" stroke="#000" stroke-width="1.2"/>
<line x1="369.0" y1="224.2" x2="369.0" y2="226.7" stroke="#000" stroke-width="1.2"/>
<line x1="372.4" y1="224.2" x2="372.4" y2="226.7" stroke="#000" stroke-width="1.2"/>
<line x1="375.5" y1="224.2" x2="375.5" y2="226.7" stroke="#000" stroke-width="1.2"/>
<g transform="translate(319.60,241.60) scale(0.920,1)"><polygon points="-2.84,0.00 -2.84,-11.60 -4.67,-11.60 -5.18,-10.82 -5.93,-10.04 -6.82,-9.36 -7.79,-8.83 -7.79,-6.77 -6.58,-7.29 -5.30,-8.26 -5.30,0.00" fill="#000" stroke="#000" stroke-width="0.5" stroke-linejoin="round"/><text x="0.00" y="0" font-size="16.2" font-weight="bold">0</text></g>
<g transform="translate(329.20,237.40) scale(0.950,1)"><text x="0.00" y="0" font-size="9.6" font-weight="bold">0</text></g>
<line x1="378.2" y1="224.2" x2="378.2" y2="228.7" stroke="#000" stroke-width="1.2"/>
<line x1="396.1" y1="224.2" x2="396.1" y2="226.7" stroke="#000" stroke-width="1.2"/>
<line x1="406.5" y1="224.2" x2="406.5" y2="226.7" stroke="#000" stroke-width="1.2"/>
<line x1="414.0" y1="224.2" x2="414.0" y2="226.7" stroke="#000" stroke-width="1.2"/>
<line x1="419.7" y1="224.2" x2="419.7" y2="226.7" stroke="#000" stroke-width="1.2"/>
<line x1="424.4" y1="224.2" x2="424.4" y2="226.7" stroke="#000" stroke-width="1.2"/>
<line x1="428.4" y1="224.2" x2="428.4" y2="226.7" stroke="#000" stroke-width="1.2"/>
<line x1="431.8" y1="224.2" x2="431.8" y2="226.7" stroke="#000" stroke-width="1.2"/>
<line x1="434.9" y1="224.2" x2="434.9" y2="226.7" stroke="#000" stroke-width="1.2"/>
<g transform="translate(379.00,241.60) scale(0.920,1)"><polygon points="-2.84,0.00 -2.84,-11.60 -4.67,-11.60 -5.18,-10.82 -5.93,-10.04 -6.82,-9.36 -7.79,-8.83 -7.79,-6.77 -6.58,-7.29 -5.30,-8.26 -5.30,0.00" fill="#000" stroke="#000" stroke-width="0.5" stroke-linejoin="round"/><text x="0.00" y="0" font-size="16.2" font-weight="bold">0</text></g>
<g transform="translate(388.60,237.40) scale(0.950,1)"><polygon points="3.66,0.00 3.66,-6.87 2.57,-6.87 2.27,-6.41 1.82,-5.95 1.30,-5.55 0.72,-5.23 0.72,-4.01 1.44,-4.32 2.20,-4.90 2.20,0.00" fill="#000" stroke="#000" stroke-width="0.5" stroke-linejoin="round"/></g>
<line x1="437.6" y1="224.2" x2="437.6" y2="228.7" stroke="#000" stroke-width="1.2"/>
<line x1="455.5" y1="224.2" x2="455.5" y2="226.7" stroke="#000" stroke-width="1.2"/>
<line x1="465.9" y1="224.2" x2="465.9" y2="226.7" stroke="#000" stroke-width="1.2"/>
<line x1="473.4" y1="224.2" x2="473.4" y2="226.7" stroke="#000" stroke-width="1.2"/>
<line x1="479.1" y1="224.2" x2="479.1" y2="226.7" stroke="#000" stroke-width="1.2"/>
<line x1="483.8" y1="224.2" x2="483.8" y2="226.7" stroke="#000" stroke-width="1.2"/>
<line x1="487.8" y1="224.2" x2="487.8" y2="226.7" stroke="#000" stroke-width="1.2"/>
<line x1="491.2" y1="224.2" x2="491.2" y2="226.7" stroke="#000" stroke-width="1.2"/>
<line x1="494.3" y1="224.2" x2="494.3" y2="226.7" stroke="#000" stroke-width="1.2"/>
<g transform="translate(438.40,241.60) scale(0.920,1)"><polygon points="-2.84,0.00 -2.84,-11.60 -4.67,-11.60 -5.18,-10.82 -5.93,-10.04 -6.82,-9.36 -7.79,-8.83 -7.79,-6.77 -6.58,-7.29 -5.30,-8.26 -5.30,0.00" fill="#000" stroke="#000" stroke-width="0.5" stroke-linejoin="round"/><text x="0.00" y="0" font-size="16.2" font-weight="bold">0</text></g>
<g transform="translate(448.00,237.40) scale(0.950,1)"><text x="0.00" y="0" font-size="9.6" font-weight="bold">2</text></g>
<line x1="497.0" y1="224.2" x2="497.0" y2="228.7" stroke="#000" stroke-width="1.2"/>
<g transform="translate(497.80,241.60) scale(0.920,1)"><polygon points="-2.84,0.00 -2.84,-11.60 -4.67,-11.60 -5.18,-10.82 -5.93,-10.04 -6.82,-9.36 -7.79,-8.83 -7.79,-6.77 -6.58,-7.29 -5.30,-8.26 -5.30,0.00" fill="#000" stroke="#000" stroke-width="0.5" stroke-linejoin="round"/><text x="0.00" y="0" font-size="16.2" font-weight="bold">0</text></g>
<g transform="translate(507.40,237.40) scale(0.950,1)"><text x="0.00" y="0" font-size="9.6" font-weight="bold">3</text></g>
<line x1="314.8" y1="223.8" x2="514.8" y2="223.8" stroke="#000" stroke-width="1.7"/>
<line x1="318.8" y1="41" x2="318.8" y2="224.2" stroke="#000" stroke-width="1.6"/>
<line x1="319.2" y1="41" x2="319.2" y2="224" stroke="#d04a5a" stroke-width="1.7"/>
<text transform="translate(26.8,463.2) rotate(-90)" text-anchor="middle" font-size="18.7" font-weight="bold">P-selectin, [mean fluorescence]</text>
<line x1="77" y1="608.0" x2="82" y2="608.0" stroke="#000" stroke-width="1.4"/>
<g transform="translate(67.00,615.50) scale(1.000,1)"><text x="-10.56" y="0" font-size="19" font-weight="bold">0</text></g>
<line x1="77" y1="556.5" x2="82" y2="556.5" stroke="#000" stroke-width="1.4"/>
<g transform="translate(67.00,563.96) scale(1.000,1)"><text x="-21.13" y="0" font-size="19" font-weight="bold">2</text><text x="-10.56" y="0" font-size="19" font-weight="bold">0</text></g>
<line x1="77" y1="504.9" x2="82" y2="504.9" stroke="#000" stroke-width="1.4"/>
<g transform="translate(67.00,512.42) scale(1.000,1)"><text x="-21.13" y="0" font-size="19" font-weight="bold">4</text><text x="-10.56" y="0" font-size="19" font-weight="bold">0</text></g>
<line x1="77" y1="453.4" x2="82" y2="453.4" stroke="#000" stroke-width="1.4"/>
<g transform="translate(67.00,460.88) scale(1.000,1)"><text x="-21.13" y="0" font-size="19" font-weight="bold">6</text><text x="-10.56" y="0" font-size="19" font-weight="bold">0</text></g>
<line x1="77" y1="401.8" x2="82" y2="401.8" stroke="#000" stroke-width="1.4"/>
<g transform="translate(67.00,409.34) scale(1.000,1)"><text x="-21.13" y="0" font-size="19" font-weight="bold">8</text><text x="-10.56" y="0" font-size="19" font-weight="bold">0</text></g>
<line x1="77" y1="350.3" x2="82" y2="350.3" stroke="#000" stroke-width="1.4"/>
<g transform="translate(67.00,357.80) scale(1.000,1)"><polygon points="-24.45,0.00 -24.45,-13.60 -26.60,-13.60 -27.21,-12.69 -28.08,-11.78 -29.13,-10.98 -30.27,-10.36 -30.27,-7.94 -28.84,-8.55 -27.34,-9.69 -27.34,0.00" fill="#000" stroke="#000" stroke-width="0.5" stroke-linejoin="round"/><text x="-21.13" y="0" font-size="19" font-weight="bold">0</text><text x="-10.56" y="0" font-size="19" font-weight="bold">0</text></g>
<defs><clipPath id="cb0"><rect x="94.45" y="543.30" width="40.70" height="64.70"/></clipPath><clipPath id="cb1"><rect x="162.25" y="539.20" width="40.70" height="68.80"/></clipPath><clipPath id="cb2"><rect x="230.15" y="537.90" width="40.70" height="70.10"/></clipPath><clipPath id="cb3"><rect x="297.65" y="415.50" width="40.70" height="192.50"/></clipPath><clipPath id="cb4"><rect x="365.65" y="441.50" width="40.70" height="166.50"/></clipPath><clipPath id="cb5"><rect x="433.35" y="541.30" width="40.70" height="66.70"/></clipPath></defs>
<line x1="114.8" y1="543.3" x2="114.8" y2="540.2" stroke="#000" stroke-width="1.3"/>
<line x1="110.4" y1="540.2" x2="119.2" y2="540.2" stroke="#000" stroke-width="1.6"/>
<rect x="94.45" y="543.30" width="40.70" height="64.70" fill="#fff"/>
<path clip-path="url(#cb0)" d="M23.95,610.00 L92.65,541.30 M36.25,610.00 L104.95,541.30 M48.55,610.00 L117.25,541.30 M60.85,610.00 L129.55,541.30 M73.15,610.00 L141.85,541.30 M85.45,610.00 L154.15,541.30 M97.75,610.00 L166.45,541.30 M110.05,610.00 L178.75,541.30 M122.35,610.00 L191.05,541.30" stroke="#000" stroke-width="1.05" fill="none"/>
<rect x="94.45" y="543.30" width="40.70" height="64.70" fill="none" stroke="#000" stroke-width="1.4"/>
<line x1="114.8" y1="608" x2="114.8" y2="612.5" stroke="#000" stroke-width="1.2"/>
<text x="114.8" y="630.3" text-anchor="middle" font-size="12.4" font-weight="bold" style="stroke-width:0.15">PBS</text>
<line x1="182.6" y1="539.2" x2="182.6" y2="535.4" stroke="#000" stroke-width="1.3"/>
<line x1="178.2" y1="535.4" x2="187.0" y2="535.4" stroke="#000" stroke-width="1.6"/>
<rect x="162.25" y="539.20" width="40.70" height="68.80" fill="#d3d3d3"/>
<path clip-path="url(#cb1)" d="M81.45,537.20 L154.25,610.00 M93.75,537.20 L166.55,610.00 M106.05,537.20 L178.85,610.00 M118.35,537.20 L191.15,610.00 M130.65,537.20 L203.45,610.00 M142.95,537.20 L215.75,610.00 M155.25,537.20 L228.05,610.00 M167.55,537.20 L240.35,610.00 M179.85,537.20 L252.65,610.00 M192.15,537.20 L264.95,610.00" stroke="#000" stroke-width="1.05" fill="none"/>
<rect x="162.25" y="539.20" width="40.70" height="68.80" fill="none" stroke="#000" stroke-width="1.4"/>
<line x1="182.6" y1="608" x2="182.6" y2="612.5" stroke="#000" stroke-width="1.2"/>
<text x="182.6" y="630.3" text-anchor="middle" font-size="12.4" font-weight="bold" style="stroke-width:0.15">sTM</text>
<line x1="250.5" y1="537.9" x2="250.5" y2="531.9" stroke="#000" stroke-width="1.3"/>
<line x1="246.1" y1="531.9" x2="254.9" y2="531.9" stroke="#000" stroke-width="1.6"/>
<rect x="230.15" y="537.90" width="40.70" height="70.10" fill="#fff"/>
<path clip-path="url(#cb2)" d="M146.85,610.00 L220.95,535.90 M159.15,610.00 L233.25,535.90 M171.45,610.00 L245.55,535.90 M183.75,610.00 L257.85,535.90 M196.05,610.00 L270.15,535.90 M208.35,610.00 L282.45,535.90 M220.65,610.00 L294.75,535.90 M232.95,610.00 L307.05,535.90 M245.25,610.00 L319.35,535.90 M257.55,610.00 L331.65,535.90 M155.45,535.90 L229.55,610.00 M167.75,535.90 L241.85,610.00 M180.05,535.90 L254.15,610.00 M192.35,535.90 L266.45,610.00 M204.65,535.90 L278.75,610.00 M216.95,535.90 L291.05,610.00 M229.25,535.90 L303.35,610.00 M241.55,535.90 L315.65,610.00 M253.85,535.90 L327.95,610.00 M266.15,535.90 L340.25,610.00" stroke="#000" stroke-width="1.05" fill="none"/>
<rect x="230.15" y="537.90" width="40.70" height="70.10" fill="none" stroke="#000" stroke-width="1.4"/>
<line x1="250.5" y1="608" x2="250.5" y2="612.5" stroke="#000" stroke-width="1.2"/>
<text x="250.5" y="630.3" text-anchor="middle" font-size="12.4" font-weight="bold" style="stroke-width:0.15">scFv/TM</text>
<line x1="318.0" y1="415.5" x2="318.0" y2="357.3" stroke="#000" stroke-width="1.3"/>
<line x1="313.6" y1="357.3" x2="322.4" y2="357.3" stroke="#000" stroke-width="1.6"/>
<rect x="297.65" y="415.50" width="40.70" height="192.50" fill="#fff"/>
<path clip-path="url(#cb3)" d="M101.85,610.00 L298.35,413.50 M114.15,610.00 L310.65,413.50 M126.45,610.00 L322.95,413.50 M138.75,610.00 L335.25,413.50 M151.05,610.00 L347.55,413.50 M163.35,610.00 L359.85,413.50 M175.65,610.00 L372.15,413.50 M187.95,610.00 L384.45,413.50 M200.25,610.00 L396.75,413.50 M212.55,610.00 L409.05,413.50 M224.85,610.00 L421.35,413.50 M237.15,610.00 L433.65,413.50 M249.45,610.00 L445.95,413.50 M261.75,610.00 L458.25,413.50 M274.05,610.00 L470.55,413.50 M286.35,610.00 L482.85,413.50 M298.65,610.00 L495.15,413.50 M310.95,610.00 L507.45,413.50 M323.25,610.00 L519.75,413.50 M335.55,610.00 L532.05,413.50" stroke="#000" stroke-width="1.05" fill="none"/>
<rect x="297.65" y="415.50" width="40.70" height="192.50" fill="none" stroke="#000" stroke-width="1.4"/>
<line x1="318.0" y1="608" x2="318.0" y2="612.5" stroke="#000" stroke-width="1.2"/>
<text x="318.0" y="630.3" text-anchor="middle" font-size="12.4" font-weight="bold" style="stroke-width:0.15">PBS/Thr</text>
<line x1="386.0" y1="441.5" x2="386.0" y2="400.6" stroke="#000" stroke-width="1.3"/>
<line x1="381.6" y1="400.6" x2="390.4" y2="400.6" stroke="#000" stroke-width="1.6"/>
<rect x="365.65" y="441.50" width="40.70" height="166.50" fill="#d3d3d3"/>
<path clip-path="url(#cb4)" d="M188.15,439.50 L358.65,610.00 M200.45,439.50 L370.95,610.00 M212.75,439.50 L383.25,610.00 M225.05,439.50 L395.55,610.00 M237.35,439.50 L407.85,610.00 M249.65,439.50 L420.15,610.00 M261.95,439.50 L432.45,610.00 M274.25,439.50 L444.75,610.00 M286.55,439.50 L457.05,610.00 M298.85,439.50 L469.35,610.00 M311.15,439.50 L481.65,610.00 M323.45,439.50 L493.95,610.00 M335.75,439.50 L506.25,610.00 M348.05,439.50 L518.55,610.00 M360.35,439.50 L530.85,610.00 M372.65,439.50 L543.15,610.00 M384.95,439.50 L555.45,610.00 M397.25,439.50 L567.75,610.00" stroke="#000" stroke-width="1.05" fill="none"/>
<rect x="365.65" y="441.50" width="40.70" height="166.50" fill="none" stroke="#000" stroke-width="1.4"/>
<line x1="386.0" y1="608" x2="386.0" y2="612.5" stroke="#000" stroke-width="1.2"/>
<text x="386.0" y="630.3" text-anchor="middle" font-size="12.4" font-weight="bold" style="stroke-width:0.15">sTM/Thr</text>
<line x1="453.7" y1="541.3" x2="453.7" y2="535.2" stroke="#000" stroke-width="1.3"/>
<line x1="449.3" y1="535.2" x2="458.1" y2="535.2" stroke="#000" stroke-width="1.6"/>
<rect x="433.35" y="541.30" width="40.70" height="66.70" fill="#fff"/>
<path clip-path="url(#cb5)" d="M358.65,610.00 L429.35,539.30 M370.95,610.00 L441.65,539.30 M383.25,610.00 L453.95,539.30 M395.55,610.00 L466.25,539.30 M407.85,610.00 L478.55,539.30 M420.15,610.00 L490.85,539.30 M432.45,610.00 L503.15,539.30 M444.75,610.00 L515.45,539.30 M457.05,610.00 L527.75,539.30 M469.35,610.00 L540.05,539.30 M363.85,539.30 L434.55,610.00 M376.15,539.30 L446.85,610.00 M388.45,539.30 L459.15,610.00 M400.75,539.30 L471.45,610.00 M413.05,539.30 L483.75,610.00 M425.35,539.30 L496.05,610.00 M437.65,539.30 L508.35,610.00 M449.95,539.30 L520.65,610.00 M462.25,539.30 L532.95,610.00" stroke="#000" stroke-width="1.05" fill="none"/>
<rect x="433.35" y="541.30" width="40.70" height="66.70" fill="none" stroke="#000" stroke-width="1.4"/>
<line x1="453.7" y1="608" x2="453.7" y2="612.5" stroke="#000" stroke-width="1.2"/>
<text x="453.7" y="630.3" text-anchor="middle" font-size="12.4" font-weight="bold" style="stroke-width:0.15">scFv/TM/Thr</text>
<path d="M386.30,372.30 L382.20,391.10 M393.00,372.30 L388.90,391.10 M380.30,378.10 L394.70,378.10 M380.30,384.60 L394.70,384.60" stroke="#000" stroke-width="2.5" fill="none"/>
<path d="M453.80,506.60 L449.70,525.40 M460.50,506.60 L456.40,525.40 M447.80,512.40 L462.20,512.40 M447.80,518.90 L462.20,518.90" stroke="#000" stroke-width="2.5" fill="none"/>
<rect x="81.4" y="325" width="406.1" height="283.2" fill="none" stroke="#000" stroke-width="2"/>
<line x1="76" y1="608" x2="488.5" y2="608" stroke="#000" stroke-width="2.2"/>
</svg></body></html>
